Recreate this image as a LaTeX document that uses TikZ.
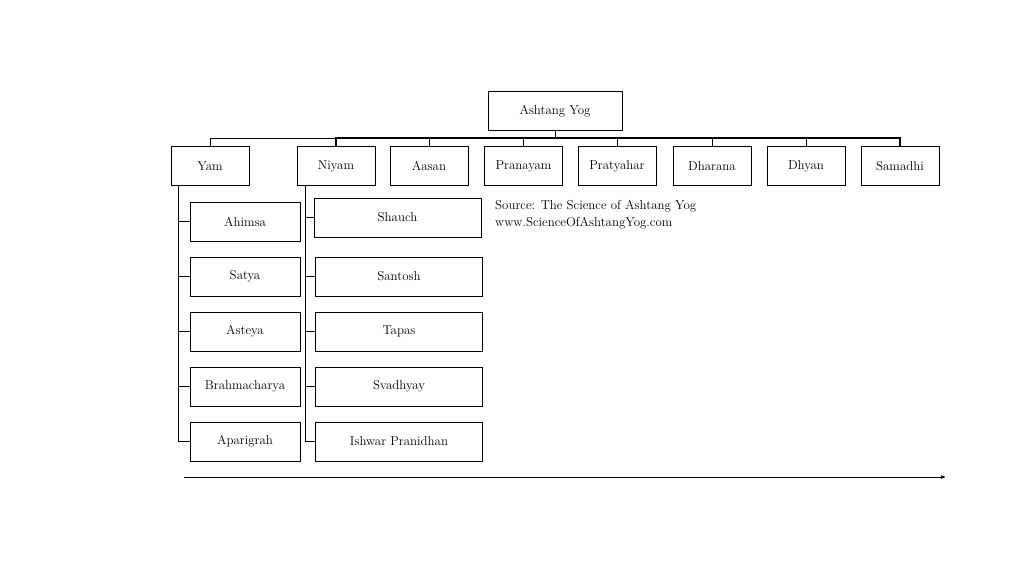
\documentclass[tikz,border=0pt]{standalone}
\usepackage{tikz}
\usetikzlibrary{arrows}
\usetikzlibrary{calc}
\begin{document}
\begin{tikzpicture}[x=0.03cm,y=-0.03cm,>=stealth',
	box/.style={draw,rectangle,inner sep=0pt,minimum height=1.17cm,font=\fontsize{11}{13}\selectfont},
	top/.style={box,minimum width=2.34cm},
	kid/.style={box,minimum width=3.3cm},
	wide/.style={box,minimum width=5cm}]
			\useasboundingbox(0,0)rectangle(1024,576);
			\node[box,minimum width=4.02cm](ay)at(555,111){Ashtang Yog};
			\node[top](yam)at(210,166){Yam};
			\node[top](niyam)at(336,166){Niyam};
			\node[top](aasan)at(429,166){Aasan};
			\node[top](pran)at(523.5,166){Pranayam};
			\node[top](prat)at(617,166){Pratyahar};
			\node[top](dhar)at(712,166){Dharana};
			\node[top](dhyan)at(806,166){Dhyan};
			\node[top](sam)at(900,166){Samadhi};
			\node[kid](ahim)at(245,221.5){Ahimsa};
			\node[kid](saty)at(245,276.5){Satya};
			\node[kid](aste)at(245,331.5){Asteya};
			\node[kid](brah)at(245,386.5){Brahmacharya};
			\node[kid](apar)at(245,441.5){Aparigrah};
			\node[wide](shau)at(397.5,217.5){Shauch};
			\node[wide](sant)at(399,276.5){Santosh};
			\node[wide](tapa)at(399,331.5){Tapas};
			\node[wide](svad)at(399,386.5){Svadhyay};
			\node[wide](ishw)at(399,441.5){Ishwar Pranidhan};
			\node[anchor=north west,align=left,inner sep=0pt,font=\fontsize{11}{14.5}\selectfont](src)at(495,200){Source: The Science of Ashtang Yog\\www.ScienceOfAshtangYog.com};
			\coordinate(bus)at(555,138);
			\draw(ay.south)--(bus);
			\draw(yam.north)|-(bus);
			\draw[line width=1pt](bus)-|(niyam.north);
			\foreach \n in {aasan,pran,prat,dhar,dhyan,sam}
				\draw($(bus)!0!(bus)$)-|(\n.north);
			\draw[line width=1pt](bus)-|(sam.north);
			\draw($(yam.south west)+(7,0)$)coordinate(ys)|-(apar.west);
			\foreach \n in {ahim,saty,aste,brah}
				\draw(ys|-\n.west)--(\n.west);
			\draw($(niyam.south west)+(8,0)$)coordinate(ns)|-(ishw.west);
			\foreach \n in {shau,sant,tapa,svad}
				\draw(ns|-\n.west)--(\n.west);
			\coordinate(t0)at(184,477);
			\coordinate(t1)at(945,477);
			\draw[->](t0)--(t1);
		\end{tikzpicture}
\end{document}
